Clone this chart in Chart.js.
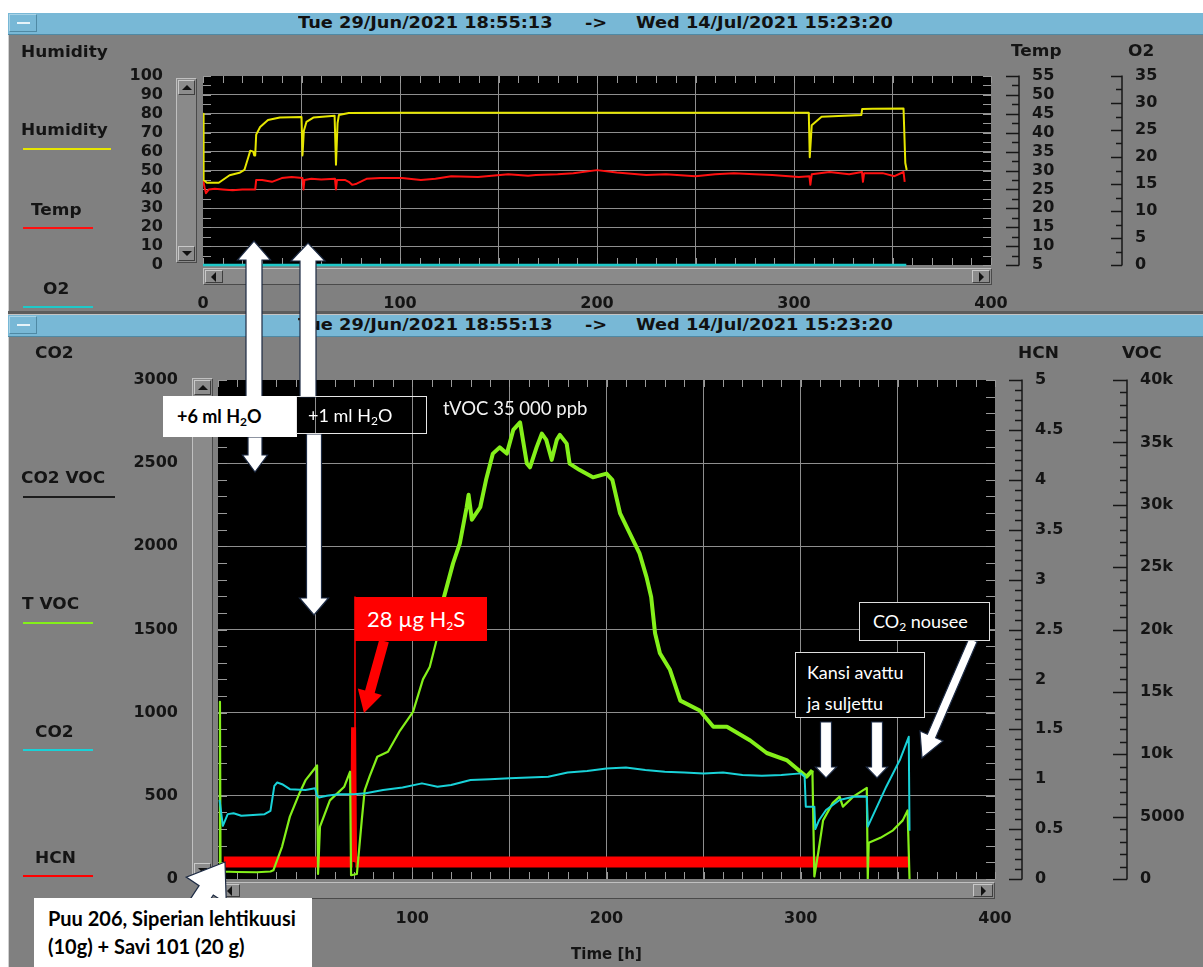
<!DOCTYPE html>
<html>
<head>
  <title>Humidity / CO2 logger</title>
  <script src="https://cdn.jsdelivr.net/npm/chart.js"></script>
  <style>
    body { margin: 0; width: 1203px; height: 967px; overflow: hidden; position: relative; background: #fff; font-family: 'DejaVu Sans', sans-serif; }
    .panel { position: absolute; left: 8px; top: 13px; width: 1195px; height: 954px; background: #808080; border-left: 1px solid #d0d0d0; border-top: 1px solid #d0d0d0; box-sizing: border-box; }
    .bar { position: absolute; left: 8px; width: 1195px; height: 21px; background: #78b8d6; border-bottom: 1px solid #4f89a4; z-index: 1; }
    .bar span { position: absolute; top: 0; line-height: 21px; font: bold 16px 'DejaVu Sans', sans-serif; color: #111; white-space: nowrap; transform: scaleX(1.11); transform-origin: left center; }
    .mini { position: absolute; left: 1px; top: 1px; width: 28px; height: 18px; border: 1px solid #a8d3e6; border-right-color: #4f89a4; border-bottom-color: #4f89a4; box-sizing: border-box; }
    .mini i { position: absolute; left: 7px; top: 7px; width: 13px; height: 2px; background: #e6f3f9; }
    .sep { position: absolute; left: 8px; top: 311px; width: 1195px; height: 3px; background: #5c5c5c; border-bottom: 1px solid #c4c4c4; }
    canvas { position: absolute; left: 8px; z-index: 1; }
    .lbl { position: absolute; font: bold 15px 'DejaVu Sans', sans-serif; color: #141414; line-height: 18px; white-space: nowrap; transform: scaleX(1.13); transform-origin: left center; z-index: 2; }
    .key { position: absolute; height: 2px; z-index: 2; }
    .sb { position: absolute; background: #8a8a8a; border: 1px solid; border-color: #c0c0c0 #4a4a4a #4a4a4a #c0c0c0; box-sizing: border-box; z-index: 2; }
    .btn { position: absolute; background: #8c8c8c; border: 1px solid; border-color: #c8c8c8 #3e3e3e #3e3e3e #c8c8c8; box-sizing: border-box; }
    .tri { position: absolute; width: 0; height: 0; }
    .up { border-left: 5px solid transparent; border-right: 5px solid transparent; border-bottom: 5px solid #111; }
    .dn { border-left: 5px solid transparent; border-right: 5px solid transparent; border-top: 5px solid #111; }
    .lt { border-top: 5px solid transparent; border-bottom: 5px solid transparent; border-right: 5px solid #111; }
    .rt { border-top: 5px solid transparent; border-bottom: 5px solid transparent; border-left: 5px solid #111; }
    svg { position: absolute; left: 0; top: 0; z-index: 4; }
    .box { position: absolute; box-sizing: border-box; font-family: Lato, 'Open Sans', sans-serif; font-size: 18px; white-space: nowrap; z-index: 5; }
    .box sub { font-size: 12px; vertical-align: -3px; line-height: 0; }
  </style>
</head>
<body>
  <div class="panel"></div>

  <div class="bar" style="top:13px"><div class="mini"><i></i></div>
    <span style="left:290px">Tue 29/Jun/2021 18:55:13</span><span style="left:577px">-&gt;</span><span style="left:628px">Wed 14/Jul/2021 15:23:20</span></div>
  <div class="sep"></div>
  <div class="bar" style="top:315px"><div class="mini"><i></i></div>
    <span style="left:290px">Tue 29/Jun/2021 18:55:13</span><span style="left:577px">-&gt;</span><span style="left:628px">Wed 14/Jul/2021 15:23:20</span></div>

  <!-- top panel labels -->
  <div class="lbl" style="left:21px;top:43px">Humidity</div>
  <div class="lbl" style="left:21px;top:121px">Humidity</div>
  <div class="key" style="left:23px;top:148px;width:88px;background:#e6e600"></div>
  <div class="lbl" style="left:31px;top:201px">Temp</div>
  <div class="key" style="left:23px;top:227px;width:70px;background:#ff1010"></div>
  <div class="lbl" style="left:43px;top:280px">O2</div>
  <div class="key" style="left:23px;top:306px;width:70px;background:#1fc9c9"></div>
  <div class="lbl" style="left:1011px;top:42px">Temp</div>
  <div class="lbl" style="left:1128px;top:42px">O2</div>

  <!-- bottom panel labels -->
  <div class="lbl" style="left:35px;top:344px">CO2</div>
  <div class="lbl" style="left:21px;top:469px">CO2 VOC</div>
  <div class="key" style="left:23px;top:496px;width:92px;background:#1c1c1c"></div>
  <div class="lbl" style="left:22px;top:595px">T VOC</div>
  <div class="key" style="left:23px;top:622px;width:70px;background:#84f01a"></div>
  <div class="lbl" style="left:35px;top:723px">CO2</div>
  <div class="key" style="left:23px;top:749px;width:70px;background:#19d2d8"></div>
  <div class="lbl" style="left:35px;top:849px">HCN</div>
  <div class="key" style="left:23px;top:875px;width:70px;background:#ff0000"></div>
  <div class="lbl" style="left:1018px;top:344px">HCN</div>
  <div class="lbl" style="left:1122px;top:344px">VOC</div>

  <!-- scrollbars -->
  <div class="sb" style="left:176px;top:78px;width:21px;height:185px">
    <div class="btn" style="left:1px;top:1px;width:17px;height:15px"><div class="tri up" style="left:3px;top:4px"></div></div>
    <div class="btn" style="left:1px;bottom:1px;width:17px;height:15px"><div class="tri dn" style="left:3px;top:4px"></div></div>
  </div>
  <div class="sb" style="left:203px;top:268px;width:789px;height:17px">
    <div class="btn" style="left:1px;top:1px;width:18px;height:13px"><div class="tri lt" style="left:5px;top:1px"></div></div>
    <div class="btn" style="right:1px;top:1px;width:18px;height:13px"><div class="tri rt" style="left:6px;top:1px"></div></div>
  </div>
  <div class="sb" style="left:192px;top:378px;width:21px;height:502px">
    <div class="btn" style="left:1px;top:1px;width:17px;height:15px"><div class="tri up" style="left:3px;top:4px"></div></div>
    <div class="btn" style="left:1px;bottom:1px;width:17px;height:15px"><div class="tri dn" style="left:3px;top:4px"></div></div>
  </div>
  <div class="sb" style="left:218px;top:882px;width:777px;height:17px">
    <div class="btn" style="left:1px;top:1px;width:20px;height:13px"><div class="tri lt" style="left:6px;top:1px"></div></div>
    <div class="btn" style="right:1px;top:1px;width:20px;height:13px"><div class="tri rt" style="left:7px;top:1px"></div></div>
  </div>

  <canvas id="topChart" width="1195" height="272" style="top:38px"></canvas>
  <canvas id="bottomChart" width="1195" height="630" style="top:337px"></canvas>

  <svg id="marks" width="1203" height="967"></svg>

  <div class="box" style="left:163px;top:396px;width:134px;height:41px;background:#fff;color:#000;font-weight:700;padding-left:14px;line-height:41px">+6 ml H<sub>2</sub>O</div>
  <div class="box" style="left:296px;top:396px;width:131px;height:38px;border:1px solid #e6e6e6;color:#fff;padding-left:11px;line-height:36px">+1 ml H<sub>2</sub>O</div>
  <div class="box" style="left:443px;top:396px;color:#f2f2f2;line-height:24px;font-size:18.5px">tVOC 35 000 ppb</div>
  <div class="box" style="left:355px;top:597px;width:132px;height:44px;background:#ff0000;color:#fff;font-size:22px;padding-left:12px;line-height:44px">28 µg H<sub>2</sub>S</div>
  <div class="box" style="left:795px;top:652px;width:130px;height:66px;border:1.5px solid #dedede;background:#000;color:#fff;padding:4px 0 0 11px;line-height:31px">Kansi avattu<br>ja suljettu</div>
  <div class="box" style="left:859px;top:602px;width:131px;height:39px;border:1.5px solid #dedede;background:#000;color:#fff;padding-left:13px;line-height:36px">CO<sub>2</sub> nousee</div>
  <div class="box" style="left:34px;top:898px;width:278px;height:69px;background:#fff;color:#000;font-weight:700;font-size:20px;padding:6px 0 0 14px;line-height:28px">Puu 206, Siperian lehtikuusi<br>(10g) + Savi 101 (20 g)</div>

  <script>
    // time axis labels (hours)
    const timeLabels = [0, 100, 200, 300, 400];

    // top panel: humidity (%), temperature (C), O2 (%)
    const humT = [0, 0.3, 2, 8, 13.5, 18.5, 21, 23, 24, 25.5, 26, 26.5, 27, 29, 33, 39, 50, 50.5, 51.2, 52.5, 56, 66.8, 67.5, 68.3, 69, 74, 100, 150, 200, 250, 307.5, 308, 309, 314, 334.2, 334.6, 340, 355.6, 356.5, 357.2];
    const humV = [80, 45, 43.5, 43.5, 47.5, 48.8, 50.3, 57, 60.5, 60, 58, 58, 69, 73, 76.7, 78, 78.3, 58, 71, 75.7, 78, 79, 53, 75, 79.4, 80.4, 80.5, 80.5, 80.6, 80.5, 80.5, 57, 74, 78.4, 79.4, 82.5, 82.7, 82.8, 54, 50.3];
    const tempT = [0, 0.8, 1.5, 3, 6, 10, 15, 20, 26.5, 27, 30, 35, 40, 45, 50.5, 51, 51.5, 55, 60, 67, 67.5, 68, 72, 74, 75.7, 78, 83, 90, 101, 110.6, 118, 126, 139.6, 155, 165, 169, 180, 188, 200, 210, 225, 235, 250, 260, 269.5, 280, 289, 302.5, 307.8, 308.3, 309, 318, 328, 334.5, 335, 335.6, 345, 351, 355.6, 356.2];
    const tempV = [27.5, 25.5, 24, 25, 25.2, 25, 24.8, 25, 25, 27.5, 27.5, 27, 28, 28.3, 28, 25, 27.5, 27.8, 27.6, 27.8, 25, 27.5, 27.5, 27, 26.2, 26.5, 27.8, 28, 28, 27.5, 27.8, 28.5, 28.3, 29, 28.6, 28.8, 29, 29.3, 30.1, 29.5, 28.8, 29, 28.5, 29, 29.3, 29, 28.8, 28.3, 28.5, 26.2, 29, 29.6, 29, 29.6, 27, 29.3, 29.3, 28.5, 29.6, 27];
    const o2T = [0, 357];
    const o2V = [0, 0];

    // bottom panel: CO2 (ppm), TVOC (ppb), HCN (ppm)
    const co2T = [0.8, 2.5, 5, 8, 12, 18, 24, 27, 29, 30.5, 33, 37, 45, 50, 51, 52, 56, 62, 70, 76, 85, 95, 105, 113, 120, 130, 140, 150, 160, 170, 180, 190, 200, 210, 220, 230, 240, 250, 260, 270, 280, 290, 300, 302, 302.6, 307, 307.5, 309.5, 313, 320, 327, 334, 334.5, 344, 351, 355.6, 356];
    const co2V = [475, 320, 390, 395, 380, 385, 390, 410, 560, 580, 570, 540, 535, 545, 500, 490, 500, 510, 510, 515, 535, 550, 575, 555, 565, 595, 600, 605, 610, 615, 640, 650, 665, 670, 655, 645, 640, 635, 640, 625, 620, 625, 635, 615, 435, 435, 300, 355, 415, 475, 495, 495, 315, 555, 715, 855, 290];
    const vocT = [0.8, 1, 1.3, 10, 20, 27, 28.5, 33, 37, 42, 45, 50, 51, 51.5, 52.5, 57.6, 65, 68, 68.5, 71.5, 74, 75.5, 78, 82, 87.5, 93.7, 100.4, 105.5, 109, 112.6, 116, 121, 124.5, 128, 129, 130.7, 135, 138, 141.5, 145, 148.7, 152, 155.5, 159, 160.6, 164, 166.7, 169, 171.8, 174.4, 176, 179.5, 181, 186, 193, 200, 203, 207, 212, 217, 220.6, 223, 225, 227.5, 232.6, 238, 248, 255, 262, 274, 282.5, 293, 303, 306, 307, 309, 311.5, 316.5, 320, 321.7, 327, 334, 334.5, 335, 341, 347.5, 352.5, 355, 356];
    const vocV = [0, 14200, 600, 560, 540, 600, 700, 2600, 5000, 6900, 7900, 8900, 9100, 400, 4200, 6300, 7400, 8600, 300, 400, 4700, 7100, 8200, 9800, 10200, 11900, 13400, 16000, 17000, 19200, 22400, 25300, 26900, 29800, 30800, 28800, 29800, 32000, 34100, 34600, 34100, 36000, 36600, 33300, 33000, 34600, 35700, 35200, 33600, 35200, 35600, 34900, 33300, 32800, 32200, 32500, 32000, 29300, 27700, 26100, 24200, 22600, 19700, 18100, 16800, 14300, 13500, 12200, 12200, 11100, 10100, 9500, 8200, 8700, 200, 2100, 4700, 6100, 6600, 5800, 6600, 7300, 0, 2900, 3300, 3900, 4700, 5500, 0];
    const hcnT = [3, 69.3, 69.8, 70.3, 70.5, 70.7, 356];
    const hcnV = [0.17, 0.17, 1.52, 0.17, 2.83, 0.17, 0.17];

    const TXT = '#141414';
    const FONT = { family: "'DejaVu Sans', sans-serif", size: 16, weight: 'bold' };
    const pts = (t, v) => t.map((x, i) => ({ x, y: v[i] }));
    // hide grid lines that would sit on the plot border
    const innerGrid = c => {
      const s = c.scale;
      return (c.tick && (c.tick.value === s.min || c.tick.value === s.max)) ? 'rgba(0,0,0,0)' : '#8e8e8e';
    };

    // black plot, inward minor ticks, and the detached right-hand axes
    const frame = {
      id: 'frame',
      beforeDraw(chart) {
        const { ctx, chartArea: a } = chart;
        ctx.save();
        ctx.fillStyle = '#000';
        ctx.fillRect(a.left, a.top, a.right - a.left, a.bottom - a.top);
        ctx.restore();
      },
      beforeDatasetsDraw(chart, args, o) {
        const { ctx, chartArea: a, scales } = chart;
        ctx.save();
        ctx.strokeStyle = '#9a9a9a';
        ctx.lineWidth = 1;
        ctx.beginPath();
        const xs = scales.x;
        const nx = Math.round((xs.max - xs.min) / o.xStep);
        for (let i = 0; i <= nx; i++) {
          const p = Math.round(xs.getPixelForValue(xs.min + i * o.xStep)) + 0.5;
          ctx.moveTo(p, a.top); ctx.lineTo(p, a.top + o.xLen);
          ctx.moveTo(p, a.bottom); ctx.lineTo(p, a.bottom - o.xLen);
        }
        const ys = scales[o.yId];
        const ny = Math.round((ys.max - ys.min) / o.yStep);
        for (let i = 0; i <= ny; i++) {
          const p = Math.round(ys.getPixelForValue(ys.min + i * o.yStep)) + 0.5;
          ctx.moveTo(a.left, p); ctx.lineTo(a.left + o.yLen, p);
          ctx.moveTo(a.right, p); ctx.lineTo(a.right - o.yLen, p);
        }
        ctx.stroke();
        ctx.restore();
      },
      afterDraw(chart, args, o) {
        const { ctx, scales } = chart;
        ctx.save();
        ctx.strokeStyle = '#161616';
        ctx.lineWidth = 1.5;
        for (const s of o.side) {
          const sc = scales[s.id];
          const lx = sc.left + s.line;
          ctx.beginPath();
          ctx.moveTo(lx, sc.getPixelForValue(sc.min) + 0.5);
          ctx.lineTo(lx, sc.getPixelForValue(sc.max) - 0.5);
          const n = Math.round((sc.max - sc.min) / s.minor);
          for (let i = 0; i <= n; i++) {
            const v = sc.min + i * s.minor;
            const r = v / s.major;
            const len = Math.abs(r - Math.round(r)) < 1e-6 ? s.majorLen : s.minorLen;
            const p = Math.round(sc.getPixelForValue(v)) + 0.5;
            ctx.moveTo(lx - len, p); ctx.lineTo(lx, p);
          }
          ctx.stroke();
        }
        ctx.restore();
      }
    };

    const xScale = (height, pad, withTitle) => ({
      type: 'linear', min: 0, max: 400,
      afterFit: s => { s.height = height; },
      ticks: { stepSize: 50, autoSkip: false, maxRotation: 0, padding: pad, color: TXT, font: FONT,
               callback: v => timeLabels.includes(v) ? v : '' },
      grid: { color: innerGrid, drawTicks: false },
      border: { display: false },
      title: { display: withTitle, text: 'Time [h]', color: TXT, font: { ...FONT, size: 15 }, padding: { top: 0, bottom: 3 } }
    });
    // label offset comes from an invisible tick mark so that it does not pad the plot vertically
    const leftScale = (max, step, width, gap) => ({
      position: 'left', min: 0, max,
      afterFit: s => { s.width = width; },
      ticks: { stepSize: step, autoSkip: false, padding: 0, color: TXT, font: FONT, callback: v => String(v) },
      grid: { color: innerGrid, drawTicks: true, tickLength: gap, tickColor: 'rgba(0,0,0,0)' },
      border: { display: false }
    });
    const sideScale = (min, max, step, width, gap, cb) => ({
      position: 'right', min, max,
      afterFit: s => { s.width = width; },
      ticks: { stepSize: step, autoSkip: false, padding: 0, color: TXT, font: FONT, callback: cb },
      grid: { display: true, drawOnChartArea: false, drawTicks: true, tickLength: gap, tickColor: 'rgba(0,0,0,0)' },
      border: { display: false }
    });

    new Chart(document.getElementById('topChart'), {
      type: 'line',
      data: {
        datasets: [
          { label: 'Humidity', data: pts(humT, humV), borderColor: '#e6e600', borderWidth: 2, yAxisID: 'yH' },
          { label: 'Temp', data: pts(tempT, tempV), borderColor: '#ff1010', borderWidth: 2, yAxisID: 'yT' },
          { label: 'O2', data: pts(o2T, o2V), borderColor: '#1fc9c9', borderWidth: 2.5, yAxisID: 'yO', clip: 4 }
        ]
      },
      options: {
        responsive: false, animation: false, devicePixelRatio: 1,
        layout: { padding: { top: 38, left: 0, right: 0, bottom: 0 } },
        elements: { point: { radius: 0 }, line: { tension: 0, borderJoinStyle: 'round' } },
        plugins: {
          legend: { display: false }, tooltip: { enabled: false },
          frame: { xStep: 10, xLen: 7, yId: 'yH', yStep: 5, yLen: 8,
                   side: [{ id: 'yT', line: 28, major: 5, minor: 2.5, majorLen: 13, minorLen: 7 },
                          { id: 'yO', line: 22, major: 5, minor: 2.5, majorLen: 11, minorLen: 6 }] }
        },
        scales: {
          x: xScale(45, 29, false),
          yH: leftScale(100, 10, 195, 40),
          yT: sideScale(5, 55, 5, 109, 41, v => String(v)),
          yO: sideScale(0, 35, 5, 103, 35, v => String(v))
        }
      },
      plugins: [frame]
    });

    new Chart(document.getElementById('bottomChart'), {
      type: 'line',
      data: {
        datasets: [
          { label: 'CO2', data: pts(co2T, co2V), borderColor: '#19d2d8', borderWidth: 2, yAxisID: 'yC' },
          { label: 'T VOC', data: pts(vocT, vocV), borderColor: '#84f01a', borderWidth: 2.2, yAxisID: 'yV',
            // the logger trace is noisy (and so drawn heavier) while the VOC level is high
            segment: { borderWidth: c => (vocT[c.p0DataIndex] >= 112 && vocT[c.p1DataIndex] <= 306) ? 4 : 2.2 } },
          { label: 'HCN', data: pts(hcnT, hcnV), borderColor: '#ff0000', borderWidth: 11, yAxisID: 'yN',
            borderCapStyle: 'butt', borderJoinStyle: 'miter',
            segment: { borderWidth: c => {
              const m = Math.max(hcnV[c.p0DataIndex], hcnV[c.p1DataIndex]);
              return m > 2 ? 1.5 : (m > 1 ? 5 : 11);
            } } }
        ]
      },
      options: {
        responsive: false, animation: false, devicePixelRatio: 1,
        layout: { padding: { top: 43, left: 0, right: 0, bottom: 0 } },
        elements: { point: { radius: 0 }, line: { tension: 0, borderJoinStyle: 'round' } },
        plugins: {
          legend: { display: false }, tooltip: { enabled: false },
          frame: { xStep: 10, xLen: 7, yId: 'yC', yStep: 100, yLen: 9,
                   side: [{ id: 'yN', line: 27, major: 0.5, minor: 0.1, majorLen: 13, minorLen: 7 },
                          { id: 'yV', line: 32, major: 5000, minor: 1000, majorLen: 14, minorLen: 7 }] }
        },
        scales: {
          x: xScale(88, 30, true),
          yC: leftScale(3000, 500, 210, 40),
          yN: sideScale(0, 5, 0.5, 100, 40, v => String(Math.round(v * 10) / 10)),
          yV: sideScale(0, 40000, 5000, 108, 45, v => v >= 10000 ? (v / 1000) + 'k' : String(v))
        }
      },
      plugins: [frame]
    });

    // block arrows pasted over the screenshot (page pixels)
    const arrows = [
      [254, 397, 254, 241, 16, 33, 19, '#fff'],
      [255, 437, 255, 472, 14, 25, 17, '#fff'],
      [308, 397, 308, 243, 16, 34, 18, '#fff'],
      [314, 434, 314, 615, 15, 29, 17, '#fff'],
      [180, 930, 225, 862, 17, 48, 34, '#fff'],
      [384, 641, 364, 713, 10, 25, 22, '#ff0000'],
      [826, 722, 826, 778, 11, 21, 11, '#fff'],
      [877, 722, 877, 778, 11, 21, 11, '#fff'],
      [973, 640, 922, 758, 9, 25, 24, '#fff']
    ];
    const svg = document.getElementById('marks');
    for (const [x1, y1, x2, y2, sw, hw, hl, fill] of arrows) {
      const len = Math.hypot(x2 - x1, y2 - y1);
      const dx = (x2 - x1) / len, dy = (y2 - y1) / len;
      const nx = -dy, ny = dx;
      const bx = x2 - dx * hl, by = y2 - dy * hl;
      const p = [
        [x1 + nx * sw / 2, y1 + ny * sw / 2], [bx + nx * sw / 2, by + ny * sw / 2],
        [bx + nx * hw / 2, by + ny * hw / 2], [x2, y2],
        [bx - nx * hw / 2, by - ny * hw / 2], [bx - nx * sw / 2, by - ny * sw / 2],
        [x1 - nx * sw / 2, y1 - ny * sw / 2]
      ];
      const poly = document.createElementNS('http://www.w3.org/2000/svg', 'polygon');
      poly.setAttribute('points', p.map(q => q[0].toFixed(1) + ',' + q[1].toFixed(1)).join(' '));
      poly.setAttribute('fill', fill);
      poly.setAttribute('stroke', fill === '#fff' ? '#1d2b44' : 'none');
      poly.setAttribute('stroke-width', '1.2');
      svg.appendChild(poly);
    }
  </script>
</body>
</html>
